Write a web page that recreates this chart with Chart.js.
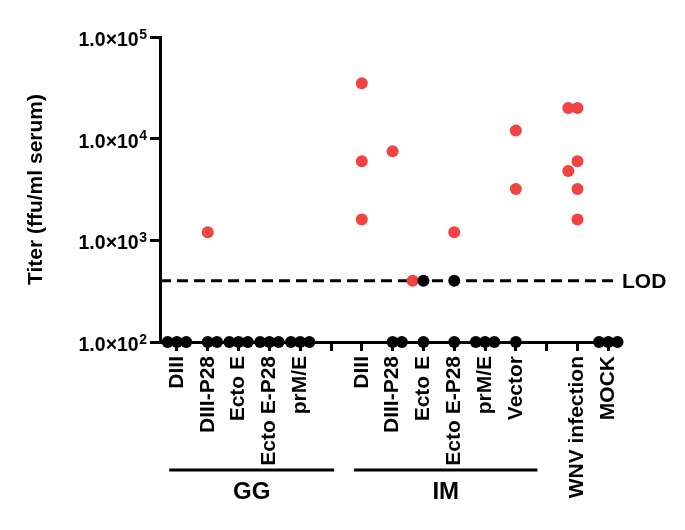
<!DOCTYPE html>
<html>
<head>
<meta charset="utf-8">
<script src="https://cdn.jsdelivr.net/npm/chart.js@4.4.0/dist/chart.umd.min.js"></script>
<style>
body { margin: 0; background: #fff; }
canvas { display: block; }
</style>
</head>
<body>
<canvas id="titerChart" width="685" height="530"></canvas>
<script>
// Categories along x (blank entries are spacer ticks between groups)
var categories = ["DIII", "DIII-P28", "Ecto E", "Ecto E-P28", "prM/E", "",
	"DIII", "DIII-P28", "Ecto E", "Ecto E-P28", "prM/E", "Vector", "",
	"WNV infection", "MOCK"];

// Group brackets under the labels
var groupNames = ["GG", "IM"];
var groupStart = [-0.25, 5.75];
var groupEnd = [5.1, 11.7];

// Animals with a measurable titer (red)
var redX = [1, 6, 6, 6, 7, 7.65, 9, 11, 11, 12.7, 13, 13, 12.7, 13, 13];
var redTiter = [1200, 35000, 6000, 1600, 7500, 400, 1200, 12000, 3200,
	20000, 20000, 6000, 4800, 3200, 1600];

// Animals at or under the limit of detection (black)
var blackX = [-0.3, 0, 0.3, 1, 1.3, 1.7, 2, 2.3, 2.7, 3, 3.3, 3.7, 4, 4.3,
	7, 7.3, 8, 9, 9.7, 10, 10.3, 11, 8, 9, 13.7, 14, 14.3];
var blackTiter = [100, 100, 100, 100, 100, 100, 100, 100, 100, 100, 100, 100, 100, 100,
	100, 100, 100, 100, 100, 100, 100, 100, 400, 400, 100, 100, 100];

var LOD = 400;
var yTicks = [100, 1000, 10000, 100000];
var yTickBase = "1.0×10";
var yTickExp = ["2", "3", "4", "5"];

var xMin = -0.55;
var xMax = 14.25;
var fontFamily = "'Liberation Sans', Arial, sans-serif";

function toPoints(xs, ys) {
	return xs.map(function (x, i) { return { x: x, y: ys[i] }; });
}

// Draws the y tick labels with superscripts, the GG / IM brackets and the LOD label
var extrasPlugin = {
	id: "extras",
	afterDraw: function (chart) {
		var ctx = chart.ctx;
		var xs = chart.scales.x;
		var ys = chart.scales.y;
		ctx.save();
		ctx.strokeStyle = "#000";
		ctx.fillStyle = "#000";

		// y tick labels
		ctx.textAlign = "left";
		ctx.textBaseline = "alphabetic";
		var right = ys.right - 13;
		for (var t = 0; t < yTicks.length; t++) {
			var py = ys.getPixelForValue(yTicks[t]);
			ctx.font = "bold 14px " + fontFamily;
			var supW = ctx.measureText(yTickExp[t]).width;
			ctx.fillText(yTickExp[t], right - supW, py + 1.5);
			ctx.font = "bold 19.5px " + fontFamily;
			var baseW = ctx.measureText(yTickBase).width;
			ctx.fillText(yTickBase, right - supW - baseW - 0.5, py + 9);
		}

		// group brackets
		ctx.lineWidth = 3;
		ctx.font = "bold 24px " + fontFamily;
		ctx.textAlign = "center";
		ctx.textBaseline = "middle";
		for (var i = 0; i < groupNames.length; i++) {
			var x0 = xs.getPixelForValue(groupStart[i]);
			var x1 = xs.getPixelForValue(groupEnd[i]);
			ctx.beginPath();
			ctx.moveTo(x0, 470);
			ctx.lineTo(x1, 470);
			ctx.stroke();
			ctx.fillText(groupNames[i], (x0 + x1) / 2, 492);
		}

		// LOD label
		ctx.font = "bold 21px " + fontFamily;
		ctx.textAlign = "left";
		ctx.fillText("LOD", xs.right + 6, ys.getPixelForValue(LOD) + 1);
		ctx.restore();
	}
};

var chart = new Chart(document.getElementById("titerChart").getContext("2d"), {
	type: "scatter",
	data: {
		datasets: [{
			data: toPoints(blackX, blackTiter),
			backgroundColor: "#000",
			pointRadius: 6,
			pointBorderWidth: 0,
			clip: false,
			order: 0
		}, {
			data: toPoints(redX, redTiter),
			backgroundColor: "#f24242",
			pointRadius: 6,
			pointBorderWidth: 0,
			clip: false,
			order: 1
		}, {
			type: "line",
			data: [{ x: xMin, y: LOD }, { x: xMax, y: LOD }],
			borderColor: "#000",
			borderWidth: 3,
			borderDash: [11, 6],
			pointRadius: 0,
			clip: false,
			order: 2
		}]
	},
	plugins: [extrasPlugin],
	options: {
		responsive: false,
		animation: false,
		devicePixelRatio: 1,
		layout: { padding: { top: 37, right: 69, left: 0, bottom: 0 } },
		plugins: { legend: { display: false }, tooltip: { enabled: false } },
		scales: {
			x: {
				type: "linear",
				min: xMin,
				max: xMax,
				afterBuildTicks: function (scale) {
					scale.ticks = categories.map(function (c, i) { return { value: i }; });
				},
				afterFit: function (scale) { scale.height = 188; },
				grid: { drawOnChartArea: false, tickLength: 9, tickWidth: 3, tickColor: "#000" },
				border: { color: "#000", width: 3 },
				ticks: {
					callback: function (v) { return categories[v]; },
					minRotation: 90,
					maxRotation: 90,
					autoSkip: false,
					padding: 5,
					color: "#000",
					font: { family: fontFamily, size: 21, weight: "bold" }
				}
			},
			y: {
				type: "logarithmic",
				min: 100,
				max: 100000,
				afterBuildTicks: function (scale) {
					scale.ticks = yTicks.map(function (v) { return { value: v }; });
				},
				afterFit: function (scale) { scale.width = 160; },
				grid: { drawOnChartArea: false, tickLength: 10, tickWidth: 3, tickColor: "#000" },
				border: { color: "#000", width: 3 },
				ticks: { display: false },
				title: {
					display: true,
					text: "Titer (ffu/ml serum)",
					color: "#000",
					padding: { top: 24, bottom: 0 },
					font: { family: fontFamily, size: 21, weight: "bold" }
				}
			}
		}
	}
});
</script>
</body>
</html>
